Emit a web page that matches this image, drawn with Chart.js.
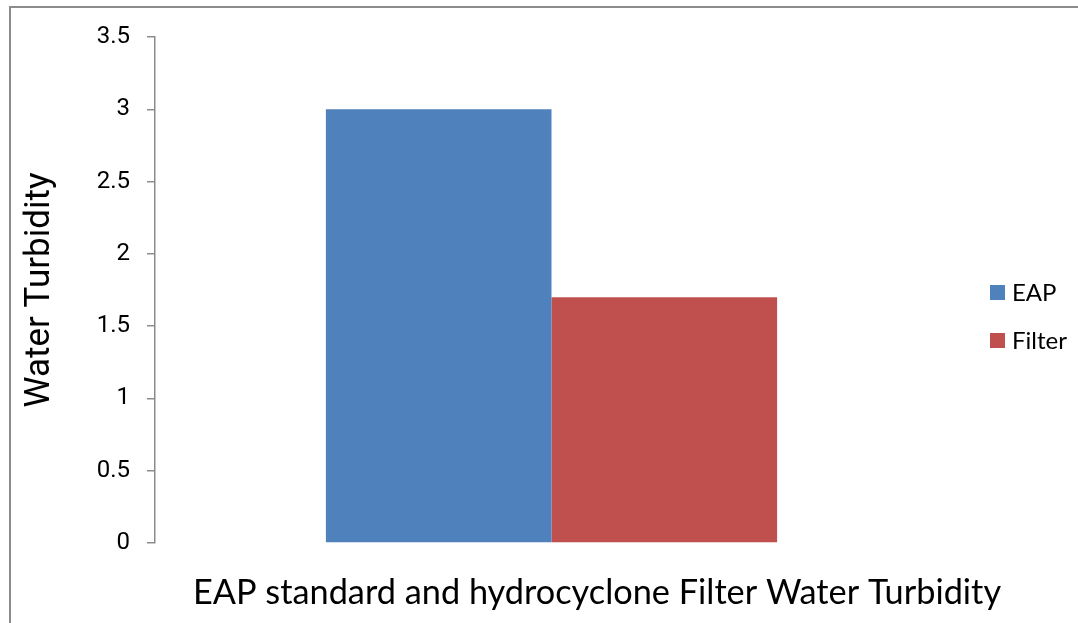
<!DOCTYPE html>
<html>
<head>
<meta charset="utf-8">
<script src="https://cdn.jsdelivr.net/npm/chart.js@4.4.1/dist/chart.umd.min.js"></script>
<style>
  html, body { margin: 0; padding: 0; background: #fff; }
  #wrap { position: relative; width: 1078px; height: 623px; }
</style>
</head>
<body>
<div id="wrap"><canvas id="chart" width="1078" height="623"></canvas></div>
<script>
const categories = [''];
const seriesNames = ['EAP', 'Filter'];
const eapValues = [3];
const filterValues = [1.7];
const seriesColors = ['#4F81BD', '#C0504D'];
const yTickLabels = ['0', '0.5', '1', '1.5', '2', '2.5', '3', '3.5'];
const xTitle = 'EAP standard and hydrocyclone Filter Water Turbidity';
const yTitle = 'Water Turbidity';

// frame lines, x title and legend drawn on the canvas
const framePlugin = {
    id: 'frame',
    beforeDraw(chart) {
        const c = chart.ctx;
        c.save();
        c.strokeStyle = '#8c8c8c';
        c.lineWidth = 2;
        c.beginPath();
        c.moveTo(10, chart.height);
        c.lineTo(10, 7);
        c.lineTo(chart.width, 7);
        c.stroke();
        c.restore();
    },
    afterDraw(chart) {
        const c = chart.ctx;
        const area = chart.chartArea;
        c.save();
        // x axis title, sits a bit right of the plot centre like the original
        c.font = '34.3px Lato';
        c.fillStyle = '#000';
        c.textAlign = 'center';
        c.textBaseline = 'middle';
        c.fillText(xTitle, area.left + 442, area.bottom + 50);

        c.font = '24px Lato';
        c.textAlign = 'left';
        chart.data.datasets.forEach((ds, i) => {
            const y = area.top + 248 + i * 48;
            c.fillStyle = ds.backgroundColor;
            c.fillRect(area.right + 42, y, 15, 15);
            c.fillStyle = '#000';
            c.fillText(ds.label, area.right + 64, y + 8);
        });
        c.restore();
    }
};

new Chart(document.getElementById('chart'), {
    type: 'bar',
    data: {
        labels: categories,
        datasets: [
            { label: seriesNames[0], data: eapValues, backgroundColor: seriesColors[0] },
            { label: seriesNames[1], data: filterValues, backgroundColor: seriesColors[1] }
        ]
    },
    options: {
        responsive: false,
        animation: false,
        layout: { padding: { top: 37, right: 130, left: 0, bottom: 0 } },
        datasets: {
            bar: { categoryPercentage: 0.569, barPercentage: 1 }
        },
        plugins: {
            legend: { display: false },
            tooltip: { enabled: false }
        },
        scales: {
            x: {
                grid: { display: false },
                border: { display: false },
                ticks: { display: false },
                afterFit: (scale) => { scale.height = 80; }
            },
            y: {
                min: 0,
                max: 3.5,
                grid: { drawOnChartArea: false, drawTicks: true, tickLength: 8, color: '#8c8c8c', lineWidth: 1.5 },
                border: { display: true, color: '#8c8c8c', width: 1.5 },
                ticks: {
                    stepSize: 0.5,
                    padding: 17,
                    color: '#000',
                    font: { family: 'Roboto', size: 24 },
                    callback: (value) => yTickLabels[Math.round(value / 0.5)]
                },
                title: {
                    display: true,
                    text: yTitle,
                    color: '#000',
                    font: { family: 'Roboto', size: 35 },
                    padding: { top: 19, bottom: 0 }
                },
                afterFit: (scale) => { scale.width = 155; }
            }
        }
    },
    plugins: [framePlugin]
});
</script>
</body>
</html>
